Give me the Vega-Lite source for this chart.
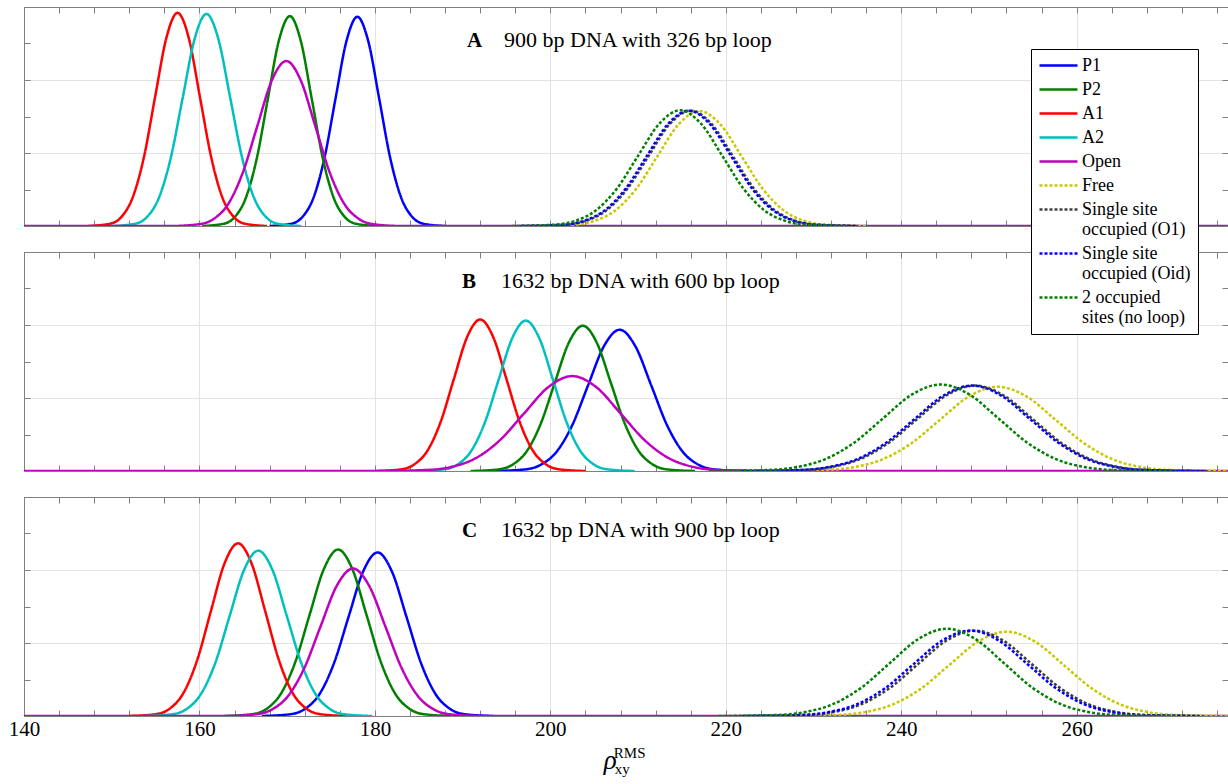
{
  "$schema": "https://vega.github.io/schema/vega-lite/v6.json",
  "background": "white",
  "padding": {"left": 8, "top": 6, "right": 0, "bottom": 0},
  "config": {
    "view": {"stroke": null},
    "font": "Liberation Serif",
    "axis": {"domainColor": "#808080", "tickColor": "#808080", "gridColor": "#e3e3e3", "domainWidth": 1, "tickWidth": 1},
    "concat": {"spacing": 24},
    "legend": {"orient": "none", "legendX": 1007, "legendY": 42, "labelFont": "Liberation Serif", "labelFontSize": 18, "labelColor": "black", "fillColor": "white", "strokeColor": "black", "padding": 7, "symbolSize": 256, "symbolType": "M-1,0L3.75,0", "labelOffset": 25, "rowPadding": 5, "zindex": 1, "labelLimit": 300, "gridAlign": "none"}
  },
  "datasets": {
    "titles": [
      {"p": "A", "k": "A", "t": "900 bp DNA with 326 bp loop"},
      {"p": "B", "k": "B", "t": "1632 bp DNA with 600 bp loop"},
      {"p": "C", "k": "C", "t": "1632 bp DNA with 900 bp loop"}
    ],
    "xlab": [{"rho": "ρ", "sup": "RMS", "sub": "xy"}],
    "curves": [
      {"p":"A","s":"P1","x":168,"y":0},{"p":"A","s":"P1","x":170.5,"y":0.064},{"p":"A","s":"P1","x":171.75,"y":0.252},{"p":"A","s":"P1","x":173,"y":0.775},{"p":"A","s":"P1","x":174.25,"y":1.861},{"p":"A","s":"P1","x":175.5,"y":3.475},{"p":"A","s":"P1","x":176.75,"y":5.057},{"p":"A","s":"P1","x":178,"y":5.73},{"p":"A","s":"P1","x":179.25,"y":5.057},{"p":"A","s":"P1","x":180.5,"y":3.475},{"p":"A","s":"P1","x":181.75,"y":1.861},{"p":"A","s":"P1","x":183,"y":0.775},{"p":"A","s":"P1","x":184.25,"y":0.252},{"p":"A","s":"P1","x":185.5,"y":0.064},{"p":"A","s":"P1","x":188,"y":0},
      {"p":"A","s":"P2","x":160.3,"y":0},{"p":"A","s":"P2","x":162.8,"y":0.064},{"p":"A","s":"P2","x":164.05,"y":0.252},{"p":"A","s":"P2","x":165.3,"y":0.778},{"p":"A","s":"P2","x":166.55,"y":1.867},{"p":"A","s":"P2","x":167.8,"y":3.487},{"p":"A","s":"P2","x":169.05,"y":5.074},{"p":"A","s":"P2","x":170.3,"y":5.75},{"p":"A","s":"P2","x":171.55,"y":5.074},{"p":"A","s":"P2","x":172.8,"y":3.487},{"p":"A","s":"P2","x":174.05,"y":1.867},{"p":"A","s":"P2","x":175.3,"y":0.778},{"p":"A","s":"P2","x":176.55,"y":0.252},{"p":"A","s":"P2","x":177.8,"y":0.064},{"p":"A","s":"P2","x":180.3,"y":0},
      {"p":"A","s":"A1","x":147.3,"y":0},{"p":"A","s":"A1","x":149.85,"y":0.065},{"p":"A","s":"A1","x":151.13,"y":0.256},{"p":"A","s":"A1","x":152.4,"y":0.79},{"p":"A","s":"A1","x":153.68,"y":1.896},{"p":"A","s":"A1","x":154.95,"y":3.542},{"p":"A","s":"A1","x":156.23,"y":5.154},{"p":"A","s":"A1","x":157.5,"y":5.84},{"p":"A","s":"A1","x":158.78,"y":5.154},{"p":"A","s":"A1","x":160.05,"y":3.542},{"p":"A","s":"A1","x":161.33,"y":1.896},{"p":"A","s":"A1","x":162.6,"y":0.79},{"p":"A","s":"A1","x":163.88,"y":0.256},{"p":"A","s":"A1","x":165.15,"y":0.065},{"p":"A","s":"A1","x":167.7,"y":0},
      {"p":"A","s":"A2","x":150,"y":0},{"p":"A","s":"A2","x":152.7,"y":0.064},{"p":"A","s":"A2","x":154.05,"y":0.255},{"p":"A","s":"A2","x":155.4,"y":0.786},{"p":"A","s":"A2","x":156.75,"y":1.886},{"p":"A","s":"A2","x":158.1,"y":3.524},{"p":"A","s":"A2","x":159.45,"y":5.127},{"p":"A","s":"A2","x":160.8,"y":5.81},{"p":"A","s":"A2","x":162.15,"y":5.127},{"p":"A","s":"A2","x":163.5,"y":3.524},{"p":"A","s":"A2","x":164.85,"y":1.886},{"p":"A","s":"A2","x":166.2,"y":0.786},{"p":"A","s":"A2","x":167.55,"y":0.255},{"p":"A","s":"A2","x":168.9,"y":0.064},{"p":"A","s":"A2","x":171.6,"y":0},
      {"p":"A","s":"Open","x":140,"y":0},{"p":"A","s":"Open","x":156.7,"y":0},{"p":"A","s":"Open","x":160,"y":0.05},{"p":"A","s":"Open","x":161.65,"y":0.198},{"p":"A","s":"Open","x":163.3,"y":0.612},{"p":"A","s":"Open","x":164.95,"y":1.468},{"p":"A","s":"Open","x":166.6,"y":2.741},{"p":"A","s":"Open","x":168.25,"y":3.989},{"p":"A","s":"Open","x":169.9,"y":4.52},{"p":"A","s":"Open","x":171.55,"y":3.989},{"p":"A","s":"Open","x":173.2,"y":2.741},{"p":"A","s":"Open","x":174.85,"y":1.468},{"p":"A","s":"Open","x":176.5,"y":0.612},{"p":"A","s":"Open","x":178.15,"y":0.198},{"p":"A","s":"Open","x":179.8,"y":0.05},{"p":"A","s":"Open","x":183.1,"y":0},{"p":"A","s":"Open","x":277.25,"y":0},
      {"p":"A","s":"Free","x":197.8,"y":0},{"p":"A","s":"Free","x":202.6,"y":0.035},{"p":"A","s":"Free","x":205,"y":0.138},{"p":"A","s":"Free","x":207.4,"y":0.426},{"p":"A","s":"Free","x":209.8,"y":1.023},{"p":"A","s":"Free","x":212.2,"y":1.91},{"p":"A","s":"Free","x":214.6,"y":2.78},{"p":"A","s":"Free","x":217,"y":3.15},{"p":"A","s":"Free","x":219.4,"y":2.78},{"p":"A","s":"Free","x":221.8,"y":1.91},{"p":"A","s":"Free","x":224.2,"y":1.023},{"p":"A","s":"Free","x":226.6,"y":0.426},{"p":"A","s":"Free","x":229,"y":0.138},{"p":"A","s":"Free","x":231.4,"y":0.035},{"p":"A","s":"Free","x":236.2,"y":0},
      {"p":"A","s":"O1","x":196.8,"y":0},{"p":"A","s":"O1","x":201.6,"y":0.035},{"p":"A","s":"O1","x":204,"y":0.139},{"p":"A","s":"O1","x":206.4,"y":0.428},{"p":"A","s":"O1","x":208.8,"y":1.026},{"p":"A","s":"O1","x":211.2,"y":1.917},{"p":"A","s":"O1","x":213.6,"y":2.789},{"p":"A","s":"O1","x":216,"y":3.16},{"p":"A","s":"O1","x":218.4,"y":2.789},{"p":"A","s":"O1","x":220.8,"y":1.917},{"p":"A","s":"O1","x":223.2,"y":1.026},{"p":"A","s":"O1","x":225.6,"y":0.428},{"p":"A","s":"O1","x":228,"y":0.139},{"p":"A","s":"O1","x":230.4,"y":0.035},{"p":"A","s":"O1","x":235.2,"y":0},
      {"p":"A","s":"Oid","x":196.6,"y":0},{"p":"A","s":"Oid","x":201.4,"y":0.035},{"p":"A","s":"Oid","x":203.8,"y":0.139},{"p":"A","s":"Oid","x":206.2,"y":0.428},{"p":"A","s":"Oid","x":208.6,"y":1.026},{"p":"A","s":"Oid","x":211,"y":1.917},{"p":"A","s":"Oid","x":213.4,"y":2.789},{"p":"A","s":"Oid","x":215.8,"y":3.16},{"p":"A","s":"Oid","x":218.2,"y":2.789},{"p":"A","s":"Oid","x":220.6,"y":1.917},{"p":"A","s":"Oid","x":223,"y":1.026},{"p":"A","s":"Oid","x":225.4,"y":0.428},{"p":"A","s":"Oid","x":227.8,"y":0.139},{"p":"A","s":"Oid","x":230.2,"y":0.035},{"p":"A","s":"Oid","x":235,"y":0},
      {"p":"A","s":"2occ","x":195.6,"y":0},{"p":"A","s":"2occ","x":200.4,"y":0.035},{"p":"A","s":"2occ","x":202.8,"y":0.139},{"p":"A","s":"2occ","x":205.2,"y":0.429},{"p":"A","s":"2occ","x":207.6,"y":1.029},{"p":"A","s":"2occ","x":210,"y":1.923},{"p":"A","s":"2occ","x":212.4,"y":2.797},{"p":"A","s":"2occ","x":214.8,"y":3.17},{"p":"A","s":"2occ","x":217.2,"y":2.797},{"p":"A","s":"2occ","x":219.6,"y":1.923},{"p":"A","s":"2occ","x":222,"y":1.029},{"p":"A","s":"2occ","x":224.4,"y":0.429},{"p":"A","s":"2occ","x":226.8,"y":0.139},{"p":"A","s":"2occ","x":229.2,"y":0.035},{"p":"A","s":"2occ","x":234,"y":0},

      {"p":"B","s":"P1","x":193.5,"y":0},{"p":"B","s":"P1","x":197.1,"y":0.043},{"p":"B","s":"P1","x":198.9,"y":0.17},{"p":"B","s":"P1","x":200.7,"y":0.524},{"p":"B","s":"P1","x":202.5,"y":1.257},{"p":"B","s":"P1","x":204.3,"y":2.347},{"p":"B","s":"P1","x":206.1,"y":3.415},{"p":"B","s":"P1","x":207.9,"y":3.87},{"p":"B","s":"P1","x":209.7,"y":3.415},{"p":"B","s":"P1","x":211.5,"y":2.347},{"p":"B","s":"P1","x":213.3,"y":1.257},{"p":"B","s":"P1","x":215.1,"y":0.524},{"p":"B","s":"P1","x":216.9,"y":0.17},{"p":"B","s":"P1","x":218.7,"y":0.043},{"p":"B","s":"P1","x":222.3,"y":0},
      {"p":"B","s":"P2","x":190.9,"y":0},{"p":"B","s":"P2","x":194.1,"y":0.044},{"p":"B","s":"P2","x":195.7,"y":0.175},{"p":"B","s":"P2","x":197.3,"y":0.538},{"p":"B","s":"P2","x":198.9,"y":1.292},{"p":"B","s":"P2","x":200.5,"y":2.414},{"p":"B","s":"P2","x":202.1,"y":3.512},{"p":"B","s":"P2","x":203.7,"y":3.98},{"p":"B","s":"P2","x":205.3,"y":3.512},{"p":"B","s":"P2","x":206.9,"y":2.414},{"p":"B","s":"P2","x":208.5,"y":1.292},{"p":"B","s":"P2","x":210.1,"y":0.538},{"p":"B","s":"P2","x":211.7,"y":0.175},{"p":"B","s":"P2","x":213.3,"y":0.044},{"p":"B","s":"P2","x":216.5,"y":0},
      {"p":"B","s":"A1","x":180,"y":0},{"p":"B","s":"A1","x":183,"y":0.046},{"p":"B","s":"A1","x":184.5,"y":0.182},{"p":"B","s":"A1","x":186,"y":0.561},{"p":"B","s":"A1","x":187.5,"y":1.348},{"p":"B","s":"A1","x":189,"y":2.517},{"p":"B","s":"A1","x":190.5,"y":3.662},{"p":"B","s":"A1","x":192,"y":4.15},{"p":"B","s":"A1","x":193.5,"y":3.662},{"p":"B","s":"A1","x":195,"y":2.517},{"p":"B","s":"A1","x":196.5,"y":1.348},{"p":"B","s":"A1","x":198,"y":0.561},{"p":"B","s":"A1","x":199.5,"y":0.182},{"p":"B","s":"A1","x":201,"y":0.046},{"p":"B","s":"A1","x":204,"y":0},
      {"p":"B","s":"A2","x":184.8,"y":0},{"p":"B","s":"A2","x":187.9,"y":0.046},{"p":"B","s":"A2","x":189.45,"y":0.181},{"p":"B","s":"A2","x":191,"y":0.557},{"p":"B","s":"A2","x":192.55,"y":1.338},{"p":"B","s":"A2","x":194.1,"y":2.499},{"p":"B","s":"A2","x":195.65,"y":3.636},{"p":"B","s":"A2","x":197.2,"y":4.12},{"p":"B","s":"A2","x":198.75,"y":3.636},{"p":"B","s":"A2","x":200.3,"y":2.499},{"p":"B","s":"A2","x":201.85,"y":1.338},{"p":"B","s":"A2","x":203.4,"y":0.557},{"p":"B","s":"A2","x":204.95,"y":0.181},{"p":"B","s":"A2","x":206.5,"y":0.046},{"p":"B","s":"A2","x":209.6,"y":0},
      {"p":"B","s":"Open","x":140,"y":0},{"p":"B","s":"Open","x":180.5,"y":0},{"p":"B","s":"Open","x":186,"y":0.029},{"p":"B","s":"Open","x":188.75,"y":0.114},{"p":"B","s":"Open","x":191.5,"y":0.352},{"p":"B","s":"Open","x":194.25,"y":0.844},{"p":"B","s":"Open","x":197,"y":1.577},{"p":"B","s":"Open","x":199.75,"y":2.295},{"p":"B","s":"Open","x":202.5,"y":2.6},{"p":"B","s":"Open","x":205.25,"y":2.295},{"p":"B","s":"Open","x":208,"y":1.577},{"p":"B","s":"Open","x":210.75,"y":0.844},{"p":"B","s":"Open","x":213.5,"y":0.352},{"p":"B","s":"Open","x":216.25,"y":0.114},{"p":"B","s":"Open","x":219,"y":0.029},{"p":"B","s":"Open","x":224.5,"y":0},{"p":"B","s":"Open","x":277.25,"y":0},
      {"p":"B","s":"Free","x":224.6,"y":0},{"p":"B","s":"Free","x":231.2,"y":0.026},{"p":"B","s":"Free","x":234.5,"y":0.101},{"p":"B","s":"Free","x":237.8,"y":0.313},{"p":"B","s":"Free","x":241.1,"y":0.75},{"p":"B","s":"Free","x":244.4,"y":1.401},{"p":"B","s":"Free","x":247.7,"y":2.039},{"p":"B","s":"Free","x":251,"y":2.31},{"p":"B","s":"Free","x":254.3,"y":2.039},{"p":"B","s":"Free","x":257.6,"y":1.401},{"p":"B","s":"Free","x":260.9,"y":0.75},{"p":"B","s":"Free","x":264.2,"y":0.313},{"p":"B","s":"Free","x":267.5,"y":0.101},{"p":"B","s":"Free","x":270.8,"y":0.026},{"p":"B","s":"Free","x":277.25,"y":0},
      {"p":"B","s":"O1","x":222,"y":0},{"p":"B","s":"O1","x":228.6,"y":0.026},{"p":"B","s":"O1","x":231.9,"y":0.103},{"p":"B","s":"O1","x":235.2,"y":0.317},{"p":"B","s":"O1","x":238.5,"y":0.76},{"p":"B","s":"O1","x":241.8,"y":1.419},{"p":"B","s":"O1","x":245.1,"y":2.065},{"p":"B","s":"O1","x":248.4,"y":2.34},{"p":"B","s":"O1","x":251.7,"y":2.065},{"p":"B","s":"O1","x":255,"y":1.419},{"p":"B","s":"O1","x":258.3,"y":0.76},{"p":"B","s":"O1","x":261.6,"y":0.317},{"p":"B","s":"O1","x":264.9,"y":0.103},{"p":"B","s":"O1","x":268.2,"y":0.026},{"p":"B","s":"O1","x":274.8,"y":0},
      {"p":"B","s":"Oid","x":221.7,"y":0},{"p":"B","s":"Oid","x":228.3,"y":0.026},{"p":"B","s":"Oid","x":231.6,"y":0.103},{"p":"B","s":"Oid","x":234.9,"y":0.317},{"p":"B","s":"Oid","x":238.2,"y":0.76},{"p":"B","s":"Oid","x":241.5,"y":1.419},{"p":"B","s":"Oid","x":244.8,"y":2.065},{"p":"B","s":"Oid","x":248.1,"y":2.34},{"p":"B","s":"Oid","x":251.4,"y":2.065},{"p":"B","s":"Oid","x":254.7,"y":1.419},{"p":"B","s":"Oid","x":258,"y":0.76},{"p":"B","s":"Oid","x":261.3,"y":0.317},{"p":"B","s":"Oid","x":264.6,"y":0.103},{"p":"B","s":"Oid","x":267.9,"y":0.026},{"p":"B","s":"Oid","x":274.5,"y":0},
      {"p":"B","s":"2occ","x":218.1,"y":0},{"p":"B","s":"2occ","x":224.7,"y":0.026},{"p":"B","s":"2occ","x":228,"y":0.104},{"p":"B","s":"2occ","x":231.3,"y":0.321},{"p":"B","s":"2occ","x":234.6,"y":0.77},{"p":"B","s":"2occ","x":237.9,"y":1.437},{"p":"B","s":"2occ","x":241.2,"y":2.092},{"p":"B","s":"2occ","x":244.5,"y":2.37},{"p":"B","s":"2occ","x":247.8,"y":2.092},{"p":"B","s":"2occ","x":251.1,"y":1.437},{"p":"B","s":"2occ","x":254.4,"y":0.77},{"p":"B","s":"2occ","x":257.7,"y":0.321},{"p":"B","s":"2occ","x":261,"y":0.104},{"p":"B","s":"2occ","x":264.3,"y":0.026},{"p":"B","s":"2occ","x":270.9,"y":0},

      {"p":"C","s":"P1","x":167.1,"y":0},{"p":"C","s":"P1","x":170.4,"y":0.05},{"p":"C","s":"P1","x":172.05,"y":0.197},{"p":"C","s":"P1","x":173.7,"y":0.606},{"p":"C","s":"P1","x":175.35,"y":1.455},{"p":"C","s":"P1","x":177,"y":2.717},{"p":"C","s":"P1","x":178.65,"y":3.954},{"p":"C","s":"P1","x":180.3,"y":4.48},{"p":"C","s":"P1","x":181.95,"y":3.954},{"p":"C","s":"P1","x":183.6,"y":2.717},{"p":"C","s":"P1","x":185.25,"y":1.455},{"p":"C","s":"P1","x":186.9,"y":0.606},{"p":"C","s":"P1","x":188.55,"y":0.197},{"p":"C","s":"P1","x":190.2,"y":0.05},{"p":"C","s":"P1","x":193.5,"y":0},
      {"p":"C","s":"P2","x":162.8,"y":0},{"p":"C","s":"P2","x":166.05,"y":0.051},{"p":"C","s":"P2","x":167.68,"y":0.2},{"p":"C","s":"P2","x":169.3,"y":0.617},{"p":"C","s":"P2","x":170.93,"y":1.481},{"p":"C","s":"P2","x":172.55,"y":2.766},{"p":"C","s":"P2","x":174.18,"y":4.024},{"p":"C","s":"P2","x":175.8,"y":4.56},{"p":"C","s":"P2","x":177.43,"y":4.024},{"p":"C","s":"P2","x":179.05,"y":2.766},{"p":"C","s":"P2","x":180.68,"y":1.481},{"p":"C","s":"P2","x":182.3,"y":0.617},{"p":"C","s":"P2","x":183.93,"y":0.2},{"p":"C","s":"P2","x":185.55,"y":0.051},{"p":"C","s":"P2","x":188.8,"y":0},
      {"p":"C","s":"A1","x":152,"y":0},{"p":"C","s":"A1","x":155.1,"y":0.053},{"p":"C","s":"A1","x":156.65,"y":0.208},{"p":"C","s":"A1","x":158.2,"y":0.64},{"p":"C","s":"A1","x":159.75,"y":1.536},{"p":"C","s":"A1","x":161.3,"y":2.869},{"p":"C","s":"A1","x":162.85,"y":4.174},{"p":"C","s":"A1","x":164.4,"y":4.73},{"p":"C","s":"A1","x":165.95,"y":4.174},{"p":"C","s":"A1","x":167.5,"y":2.869},{"p":"C","s":"A1","x":169.05,"y":1.536},{"p":"C","s":"A1","x":170.6,"y":0.64},{"p":"C","s":"A1","x":172.15,"y":0.208},{"p":"C","s":"A1","x":173.7,"y":0.053},{"p":"C","s":"A1","x":176.8,"y":0},
      {"p":"C","s":"A2","x":153.7,"y":0},{"p":"C","s":"A2","x":156.95,"y":0.05},{"p":"C","s":"A2","x":158.58,"y":0.199},{"p":"C","s":"A2","x":160.2,"y":0.613},{"p":"C","s":"A2","x":161.83,"y":1.471},{"p":"C","s":"A2","x":163.45,"y":2.747},{"p":"C","s":"A2","x":165.08,"y":3.998},{"p":"C","s":"A2","x":166.7,"y":4.53},{"p":"C","s":"A2","x":168.33,"y":3.998},{"p":"C","s":"A2","x":169.95,"y":2.747},{"p":"C","s":"A2","x":171.58,"y":1.471},{"p":"C","s":"A2","x":173.2,"y":0.613},{"p":"C","s":"A2","x":174.83,"y":0.199},{"p":"C","s":"A2","x":176.45,"y":0.05},{"p":"C","s":"A2","x":179.7,"y":0},
      {"p":"C","s":"Open","x":140,"y":0},{"p":"C","s":"Open","x":162.7,"y":0},{"p":"C","s":"Open","x":166.4,"y":0.045},{"p":"C","s":"Open","x":168.25,"y":0.177},{"p":"C","s":"Open","x":170.1,"y":0.547},{"p":"C","s":"Open","x":171.95,"y":1.312},{"p":"C","s":"Open","x":173.8,"y":2.45},{"p":"C","s":"Open","x":175.65,"y":3.565},{"p":"C","s":"Open","x":177.5,"y":4.04},{"p":"C","s":"Open","x":179.35,"y":3.565},{"p":"C","s":"Open","x":181.2,"y":2.45},{"p":"C","s":"Open","x":183.05,"y":1.312},{"p":"C","s":"Open","x":184.9,"y":0.547},{"p":"C","s":"Open","x":186.75,"y":0.177},{"p":"C","s":"Open","x":188.6,"y":0.045},{"p":"C","s":"Open","x":192.3,"y":0},{"p":"C","s":"Open","x":277.25,"y":0},
      {"p":"C","s":"Free","x":226,"y":0},{"p":"C","s":"Free","x":232.5,"y":0.026},{"p":"C","s":"Free","x":235.75,"y":0.101},{"p":"C","s":"Free","x":239,"y":0.313},{"p":"C","s":"Free","x":242.25,"y":0.75},{"p":"C","s":"Free","x":245.5,"y":1.401},{"p":"C","s":"Free","x":248.75,"y":2.039},{"p":"C","s":"Free","x":252,"y":2.31},{"p":"C","s":"Free","x":255.25,"y":2.039},{"p":"C","s":"Free","x":258.5,"y":1.401},{"p":"C","s":"Free","x":261.75,"y":0.75},{"p":"C","s":"Free","x":265,"y":0.313},{"p":"C","s":"Free","x":268.25,"y":0.101},{"p":"C","s":"Free","x":271.5,"y":0.026},{"p":"C","s":"Free","x":277.25,"y":0},
      {"p":"C","s":"O1","x":222.4,"y":0},{"p":"C","s":"O1","x":228.9,"y":0.026},{"p":"C","s":"O1","x":232.15,"y":0.103},{"p":"C","s":"O1","x":235.4,"y":0.317},{"p":"C","s":"O1","x":238.65,"y":0.76},{"p":"C","s":"O1","x":241.9,"y":1.419},{"p":"C","s":"O1","x":245.15,"y":2.065},{"p":"C","s":"O1","x":248.4,"y":2.34},{"p":"C","s":"O1","x":251.65,"y":2.065},{"p":"C","s":"O1","x":254.9,"y":1.419},{"p":"C","s":"O1","x":258.15,"y":0.76},{"p":"C","s":"O1","x":261.4,"y":0.317},{"p":"C","s":"O1","x":264.65,"y":0.103},{"p":"C","s":"O1","x":267.9,"y":0.026},{"p":"C","s":"O1","x":274.4,"y":0},
      {"p":"C","s":"Oid","x":221.9,"y":0},{"p":"C","s":"Oid","x":228.4,"y":0.026},{"p":"C","s":"Oid","x":231.65,"y":0.103},{"p":"C","s":"Oid","x":234.9,"y":0.317},{"p":"C","s":"Oid","x":238.15,"y":0.76},{"p":"C","s":"Oid","x":241.4,"y":1.419},{"p":"C","s":"Oid","x":244.65,"y":2.065},{"p":"C","s":"Oid","x":247.9,"y":2.34},{"p":"C","s":"Oid","x":251.15,"y":2.065},{"p":"C","s":"Oid","x":254.4,"y":1.419},{"p":"C","s":"Oid","x":257.65,"y":0.76},{"p":"C","s":"Oid","x":260.9,"y":0.317},{"p":"C","s":"Oid","x":264.15,"y":0.103},{"p":"C","s":"Oid","x":267.4,"y":0.026},{"p":"C","s":"Oid","x":273.9,"y":0},
      {"p":"C","s":"2occ","x":219.2,"y":0},{"p":"C","s":"2occ","x":225.7,"y":0.027},{"p":"C","s":"2occ","x":228.95,"y":0.105},{"p":"C","s":"2occ","x":232.2,"y":0.323},{"p":"C","s":"2occ","x":235.45,"y":0.776},{"p":"C","s":"2occ","x":238.7,"y":1.45},{"p":"C","s":"2occ","x":241.95,"y":2.109},{"p":"C","s":"2occ","x":245.2,"y":2.39},{"p":"C","s":"2occ","x":248.45,"y":2.109},{"p":"C","s":"2occ","x":251.7,"y":1.45},{"p":"C","s":"2occ","x":254.95,"y":0.776},{"p":"C","s":"2occ","x":258.2,"y":0.323},{"p":"C","s":"2occ","x":261.45,"y":0.105},{"p":"C","s":"2occ","x":264.7,"y":0.027},{"p":"C","s":"2occ","x":271.2,"y":0}
    ]
  },
  "vconcat": [
    {
      "width": 1204, "height": 219,
      "resolve": {"axis": {"x": "independent", "y": "independent"}},
      "layer": [
        {
          "data": {"name": "curves"},
          "transform": [{"filter": "datum.p == 'A'"}],
          "mark": {"type": "line", "interpolate": "monotone", "clip": true},
          "encoding": {
            "x": {"field": "x", "type": "quantitative", "scale": {"domain": [140, 277.25], "nice": false, "zero": false},
                  "axis": {"orient": "bottom", "title": null, "labels": false, "tickSize": -6, "values": [140,144,148,152,156,160,164,168,172,176,180,184,188,192,196,200,204,208,212,216,220,224,228,232,236,240,244,248,252,256,260,264,268,272,276], "grid": true, "gridOpacity": {"condition": {"test": "datum.value % 20 === 0", "value": 1}, "value": 0}}},
            "y": {"field": "y", "type": "quantitative", "scale": {"domain": [0, 6], "nice": false, "zero": true},
                  "axis": {"orient": "left", "title": null, "labels": false, "tickSize": -6, "values": [0,1,2,3,4,5,6], "grid": true, "gridOpacity": {"condition": {"test": "datum.value % 2 === 0", "value": 1}, "value": 0}}},
            "color": {"field": "s", "type": "nominal", "scale": {"domain": ["P1","P2","A1","A2","Open","Free","O1","Oid","2occ"], "range": ["#0000ff","#008000","#ff0000","#00bfbf","#bf00bf","#c8c800","#404040","#0000ff","#008000"]},
                      "legend": {"title": null, "labelFont": "Liberation Serif", "labelFontSize": 18, "labelExpr": "datum.label == 'O1' ? ['Single site','occupied (O1)'] : datum.label == 'Oid' ? ['Single site','occupied (Oid)'] : datum.label == '2occ' ? ['2 occupied','sites (no loop)'] : datum.label"}},
            "strokeDash": {"field": "s", "type": "nominal", "scale": {"domain": ["P1","P2","A1","A2","Open","Free","O1","Oid","2occ"], "range": [[1,0],[1,0],[1,0],[1,0],[1,0],[3,2],[3,2],[3,2],[3,2]]}, "legend": {"title": null}},
            "strokeWidth": {"field": "s", "type": "nominal", "scale": {"domain": ["P1","P2","A1","A2","Open","Free","O1","Oid","2occ"], "range": [2.5,2.5,2.5,2.5,2.5,1.2,1.2,1.2,1.2]}, "legend": {"title": null}}
          }
        },
        {
          "data": {"name": "titles"},
          "transform": [{"filter": "datum.p == 'A'"}],
          "mark": {"type": "text", "align": "left", "baseline": "alphabetic", "fontSize": 21, "fontWeight": "bold", "color": "black", "font": "Liberation Serif"},
          "encoding": {
            "x": {"datum": 190.5, "type": "quantitative", "axis": {"orient": "top", "title": null, "labels": false, "tickSize": -6, "grid": false, "values": [140,144,148,152,156,160,164,168,172,176,180,184,188,192,196,200,204,208,212,216,220,224,228,232,236,240,244,248,252,256,260,264,268,272,276]}},
            "y": {"datum": 4.9, "type": "quantitative", "axis": {"orient": "right", "title": null, "labels": false, "tickSize": -6, "grid": false, "domain": false, "values": [0,1,2,3,4,5,6]}},
            "text": {"field": "k"}
          }
        },
        {
          "data": {"name": "titles"},
          "transform": [{"filter": "datum.p == 'A'"}],
          "mark": {"type": "text", "align": "left", "baseline": "alphabetic", "fontSize": 22, "color": "black", "font": "Liberation Serif"},
          "encoding": {
            "x": {"datum": 194.72, "type": "quantitative", "axis": null},
            "y": {"datum": 4.9, "type": "quantitative", "axis": null},
            "text": {"field": "t"}
          }
        }
      ]
    },
    {
      "width": 1204, "height": 219,
      "resolve": {"axis": {"x": "independent", "y": "independent"}},
      "layer": [
        {
          "data": {"name": "curves"},
          "transform": [{"filter": "datum.p == 'B'"}],
          "mark": {"type": "line", "interpolate": "monotone", "clip": true},
          "encoding": {
            "x": {"field": "x", "type": "quantitative", "scale": {"domain": [140, 277.25], "nice": false, "zero": false},
                  "axis": {"orient": "bottom", "title": null, "labels": false, "tickSize": -6, "values": [140,144,148,152,156,160,164,168,172,176,180,184,188,192,196,200,204,208,212,216,220,224,228,232,236,240,244,248,252,256,260,264,268,272,276], "grid": true, "gridOpacity": {"condition": {"test": "datum.value % 20 === 0", "value": 1}, "value": 0}}},
            "y": {"field": "y", "type": "quantitative", "scale": {"domain": [0, 6], "nice": false, "zero": true},
                  "axis": {"orient": "left", "title": null, "labels": false, "tickSize": -6, "values": [0,1,2,3,4,5,6], "grid": true, "gridOpacity": {"condition": {"test": "datum.value % 2 === 0", "value": 1}, "value": 0}}},
            "color": {"field": "s", "type": "nominal", "scale": {"domain": ["P1","P2","A1","A2","Open","Free","O1","Oid","2occ"], "range": ["#0000ff","#008000","#ff0000","#00bfbf","#bf00bf","#c8c800","#404040","#0000ff","#008000"]},
                      "legend": {"title": null, "labelFont": "Liberation Serif", "labelFontSize": 18, "labelExpr": "datum.label == 'O1' ? ['Single site','occupied (O1)'] : datum.label == 'Oid' ? ['Single site','occupied (Oid)'] : datum.label == '2occ' ? ['2 occupied','sites (no loop)'] : datum.label"}},
            "strokeDash": {"field": "s", "type": "nominal", "scale": {"domain": ["P1","P2","A1","A2","Open","Free","O1","Oid","2occ"], "range": [[1,0],[1,0],[1,0],[1,0],[1,0],[3,2],[3,2],[3,2],[3,2]]}, "legend": {"title": null}},
            "strokeWidth": {"field": "s", "type": "nominal", "scale": {"domain": ["P1","P2","A1","A2","Open","Free","O1","Oid","2occ"], "range": [2.5,2.5,2.5,2.5,2.5,1.2,1.2,1.2,1.2]}, "legend": {"title": null}}
          }
        },
        {
          "data": {"name": "titles"},
          "transform": [{"filter": "datum.p == 'B'"}],
          "mark": {"type": "text", "align": "left", "baseline": "alphabetic", "fontSize": 21, "fontWeight": "bold", "color": "black", "font": "Liberation Serif"},
          "encoding": {
            "x": {"datum": 189.93, "type": "quantitative", "axis": {"orient": "top", "title": null, "labels": false, "tickSize": -6, "grid": false, "values": [140,144,148,152,156,160,164,168,172,176,180,184,188,192,196,200,204,208,212,216,220,224,228,232,236,240,244,248,252,256,260,264,268,272,276]}},
            "y": {"datum": 5.01, "type": "quantitative", "axis": {"orient": "right", "title": null, "labels": false, "tickSize": -6, "grid": false, "domain": false, "values": [0,1,2,3,4,5,6]}},
            "text": {"field": "k"}
          }
        },
        {
          "data": {"name": "titles"},
          "transform": [{"filter": "datum.p == 'B'"}],
          "mark": {"type": "text", "align": "left", "baseline": "alphabetic", "fontSize": 22, "color": "black", "font": "Liberation Serif"},
          "encoding": {
            "x": {"datum": 194.38, "type": "quantitative", "axis": null},
            "y": {"datum": 5.01, "type": "quantitative", "axis": null},
            "text": {"field": "t"}
          }
        }
      ]
    },
    {
      "width": 1204, "height": 219,
      "resolve": {"axis": {"x": "independent", "y": "independent"}},
      "layer": [
        {
          "data": {"name": "curves"},
          "transform": [{"filter": "datum.p == 'C'"}],
          "mark": {"type": "line", "interpolate": "monotone", "clip": true},
          "encoding": {
            "x": {"field": "x", "type": "quantitative", "scale": {"domain": [140, 277.25], "nice": false, "zero": false},
                  "axis": {"orient": "bottom", "title": null, "labels": true, "labelExpr": "datum.value % 20 === 0 ? datum.label : ''", "labelFont": "Liberation Serif", "labelFontSize": 21, "labelColor": "black", "labelPadding": 8, "labelOverlap": false, "labelBound": false, "labelFlush": false, "tickSize": -6, "values": [140,144,148,152,156,160,164,168,172,176,180,184,188,192,196,200,204,208,212,216,220,224,228,232,236,240,244,248,252,256,260,264,268,272,276], "grid": true, "gridOpacity": {"condition": {"test": "datum.value % 20 === 0", "value": 1}, "value": 0}}},
            "y": {"field": "y", "type": "quantitative", "scale": {"domain": [0, 6], "nice": false, "zero": true},
                  "axis": {"orient": "left", "title": null, "labels": false, "tickSize": -6, "values": [0,1,2,3,4,5,6], "grid": true, "gridOpacity": {"condition": {"test": "datum.value % 2 === 0", "value": 1}, "value": 0}}},
            "color": {"field": "s", "type": "nominal", "scale": {"domain": ["P1","P2","A1","A2","Open","Free","O1","Oid","2occ"], "range": ["#0000ff","#008000","#ff0000","#00bfbf","#bf00bf","#c8c800","#404040","#0000ff","#008000"]},
                      "legend": {"title": null, "labelFont": "Liberation Serif", "labelFontSize": 18, "labelExpr": "datum.label == 'O1' ? ['Single site','occupied (O1)'] : datum.label == 'Oid' ? ['Single site','occupied (Oid)'] : datum.label == '2occ' ? ['2 occupied','sites (no loop)'] : datum.label"}},
            "strokeDash": {"field": "s", "type": "nominal", "scale": {"domain": ["P1","P2","A1","A2","Open","Free","O1","Oid","2occ"], "range": [[1,0],[1,0],[1,0],[1,0],[1,0],[3,2],[3,2],[3,2],[3,2]]}, "legend": {"title": null}},
            "strokeWidth": {"field": "s", "type": "nominal", "scale": {"domain": ["P1","P2","A1","A2","Open","Free","O1","Oid","2occ"], "range": [2.5,2.5,2.5,2.5,2.5,1.2,1.2,1.2,1.2]}, "legend": {"title": null}}
          }
        },
        {
          "data": {"name": "titles"},
          "transform": [{"filter": "datum.p == 'C'"}],
          "mark": {"type": "text", "align": "left", "baseline": "alphabetic", "fontSize": 21, "fontWeight": "bold", "color": "black", "font": "Liberation Serif"},
          "encoding": {
            "x": {"datum": 189.93, "type": "quantitative", "axis": {"orient": "top", "title": null, "labels": false, "tickSize": -6, "grid": false, "values": [140,144,148,152,156,160,164,168,172,176,180,184,188,192,196,200,204,208,212,216,220,224,228,232,236,240,244,248,252,256,260,264,268,272,276]}},
            "y": {"datum": 4.9, "type": "quantitative", "axis": {"orient": "right", "title": null, "labels": false, "tickSize": -6, "grid": false, "domain": false, "values": [0,1,2,3,4,5,6]}},
            "text": {"field": "k"}
          }
        },
        {
          "data": {"name": "titles"},
          "transform": [{"filter": "datum.p == 'C'"}],
          "mark": {"type": "text", "align": "left", "baseline": "alphabetic", "fontSize": 22, "color": "black", "font": "Liberation Serif"},
          "encoding": {
            "x": {"datum": 194.38, "type": "quantitative", "axis": null},
            "y": {"datum": 4.9, "type": "quantitative", "axis": null},
            "text": {"field": "t"}
          }
        },
        {
          "data": {"name": "xlab"},
          "mark": {"type": "text", "align": "left", "baseline": "alphabetic", "fontSize": 27, "fontStyle": "italic", "color": "black", "font": "Liberation Serif"},
          "encoding": {
            "x": {"datum": 206.1, "type": "quantitative", "axis": null},
            "y": {"datum": -1.456, "type": "quantitative", "axis": null},
            "text": {"field": "rho"}
          }
        },
        {
          "data": {"name": "xlab"},
          "mark": {"type": "text", "align": "left", "baseline": "alphabetic", "fontSize": 15, "color": "black", "font": "Liberation Serif"},
          "encoding": {
            "x": {"datum": 207.24, "type": "quantitative", "axis": null},
            "y": {"datum": -1.154, "type": "quantitative", "axis": null},
            "text": {"field": "sup"}
          }
        },
        {
          "data": {"name": "xlab"},
          "mark": {"type": "text", "align": "left", "baseline": "alphabetic", "fontSize": 15, "color": "black", "font": "Liberation Serif"},
          "encoding": {
            "x": {"datum": 207.35, "type": "quantitative", "axis": null},
            "y": {"datum": -1.593, "type": "quantitative", "axis": null},
            "text": {"field": "sub"}
          }
        }
      ]
    }
  ]
}
